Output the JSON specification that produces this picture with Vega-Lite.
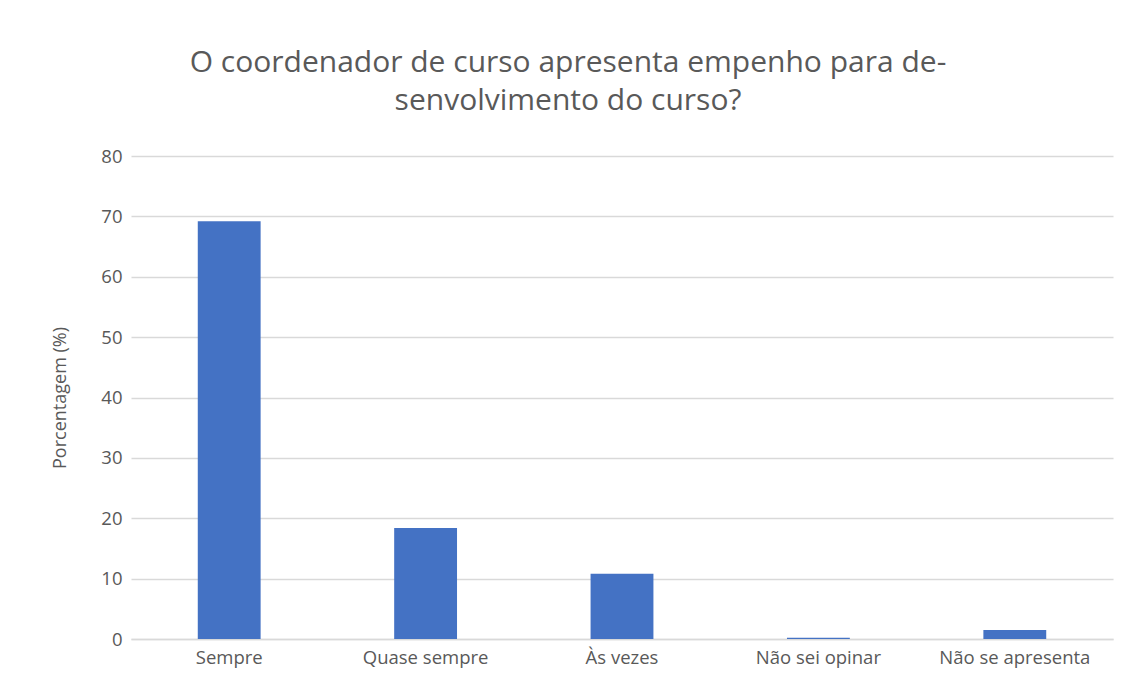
{
  "$schema": "https://vega.github.io/schema/vega-lite/v6.json",
  "autosize": {"type": "none"},
  "width": 982,
  "height": 483,
  "padding": {"left": 131, "top": 156, "right": 10, "bottom": 38},
  "background": "white",
  "title": {
    "text": ["O coordenador de curso apresenta empenho para de-", "senvolvimento do curso?"],
    "fontSize": 30,
    "font": "Open Sans",
    "fontWeight": "normal",
    "color": "#595959",
    "lineHeight": 38,
    "anchor": "middle",
    "dx": -54,
    "offset": 31
  },
  "data": {
    "values": [
      {"categoria": "Sempre", "pct": 69.2},
      {"categoria": "Quase sempre", "pct": 18.4},
      {"categoria": "Às vezes", "pct": 10.8},
      {"categoria": "Não sei opinar", "pct": 0.2},
      {"categoria": "Não se apresenta", "pct": 1.5}
    ]
  },
  "mark": {"type": "bar", "color": "#4472C4"},
  "encoding": {
    "x": {
      "field": "categoria",
      "type": "nominal",
      "sort": null,
      "scale": {"paddingInner": 0.68, "paddingOuter": 0.34},
      "axis": {
        "title": null,
        "labelAngle": 0,
        "labelFont": "Open Sans",
        "labelFontSize": 18.5,
        "labelColor": "#595959",
        "labelPadding": 9,
        "ticks": false,
        "domainColor": "#D9D9D9",
        "domainWidth": 1.5
      }
    },
    "y": {
      "field": "pct",
      "type": "quantitative",
      "scale": {"domain": [0, 80]},
      "axis": {
        "title": "Porcentagem (%)",
        "titleFont": "Open Sans",
        "titleFontSize": 18,
        "titleFontWeight": "normal",
        "titleColor": "#595959",
        "titlePadding": 31,
        "values": [0, 10, 20, 30, 40, 50, 60, 70, 80],
        "labelFont": "Open Sans",
        "labelFontSize": 18.5,
        "labelColor": "#595959",
        "labelPadding": 9,
        "ticks": false,
        "domain": false,
        "gridColor": "#D9D9D9",
        "gridWidth": 1.5
      }
    }
  },
  "config": {"view": {"stroke": null}}
}
